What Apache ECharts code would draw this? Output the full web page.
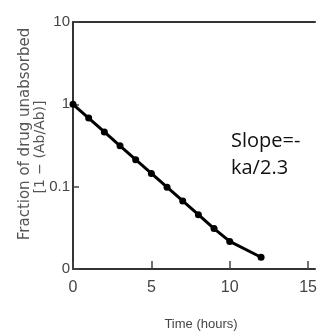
<!DOCTYPE html>
<html>
<head>
<meta charset="utf-8">
<script src="https://cdn.jsdelivr.net/npm/echarts@6/dist/echarts.min.js"></script>
<style>html,body{margin:0;padding:0;background:#fff}#c{width:320px;height:336px}</style>
</head>
<body>
<div id="c"></div>
<script>
var timeHours = [0, 1, 2, 3, 4, 5, 6, 7, 8, 9, 10, 12];
var fractionUnabsorbed = [1, 0.68, 0.462, 0.314, 0.213, 0.145, 0.0986, 0.067, 0.0456, 0.031, 0.0216, 0.0139];
var xTicks = [0, 5, 10, 15];
var yTickLabels = {"0.01": "0", "0.1": "0.1", "1": "1", "10": "10"};

var tickFont = '"Liberation Sans", sans-serif';
var chart = echarts.init(document.getElementById('c'), null, {renderer: 'canvas'});
chart.setOption({
  animation: false,
  grid: {left: 73, right: 0, top: 22, bottom: 64},
  xAxis: [{
    type: 'value', min: 0, max: 15.44, position: 'bottom',
    axisLine: {show: true, lineStyle: {color: '#333', width: 2}},
    axisTick: {show: true, inside: true, length: 8, customValues: xTicks, lineStyle: {color: '#444', width: 1.5}},
    axisLabel: {customValues: xTicks, color: '#444', fontSize: 16, fontFamily: tickFont, margin: 11},
    splitLine: {show: false},
    name: 'Time (hours)', nameLocation: 'middle', nameGap: 49,
    nameTextStyle: {color: '#444', fontSize: 13, fontFamily: tickFont, padding: [0, 0, 0, 14]}
  }, {
    type: 'value', min: 0, max: 15.44, position: 'top',
    axisLine: {show: true, lineStyle: {color: '#333', width: 2}},
    axisTick: {show: false}, axisLabel: {show: false}, splitLine: {show: false}
  }],
  yAxis: {
    type: 'log', logBase: 10, min: 0.01, max: 10,
    axisLine: {show: true, lineStyle: {color: '#333', width: 2}},
    axisTick: {show: true, inside: true, length: 6, lineStyle: {color: '#444', width: 1.5}},
    minorTick: {show: false},
    axisLabel: {color: '#444', fontSize: 15, fontFamily: tickFont, margin: 3,
      formatter: function (v) { var k = String(+v.toPrecision(3)); return yTickLabels[k] !== undefined ? yTickLabels[k] : ''; }},
    splitLine: {show: false}
  },
  graphic: [
    {type: 'text', x: 25, y: 134, rotation: Math.PI / 2,
     style: {text: 'Fraction of drug unabsorbed', fill: '#555', fontSize: 15, fontFamily: 'DejaVu Sans, sans-serif', align: 'center', verticalAlign: 'middle'}},
    {type: 'text', x: 40, y: 147, rotation: Math.PI / 2,
     style: {text: '[1 \u2212 (Ab/Ab)]', fill: '#555', fontSize: 14, fontFamily: 'DejaVu Sans, sans-serif', align: 'center', verticalAlign: 'middle'}},
    {type: 'text', x: 231, y: 128,
     style: {text: 'Slope=-\nka/2.3', fill: '#111', fontSize: 20, lineHeight: 27, fontFamily: '"Open Sans", sans-serif'}}
  ],
  series: [{
    type: 'line',
    data: timeHours.map(function (t, i) { return [t, fractionUnabsorbed[i]]; }),
    symbol: 'circle', symbolSize: 7,
    lineStyle: {color: '#000', width: 3},
    itemStyle: {color: '#000'}
  }]
});
</script>
</body>
</html>
